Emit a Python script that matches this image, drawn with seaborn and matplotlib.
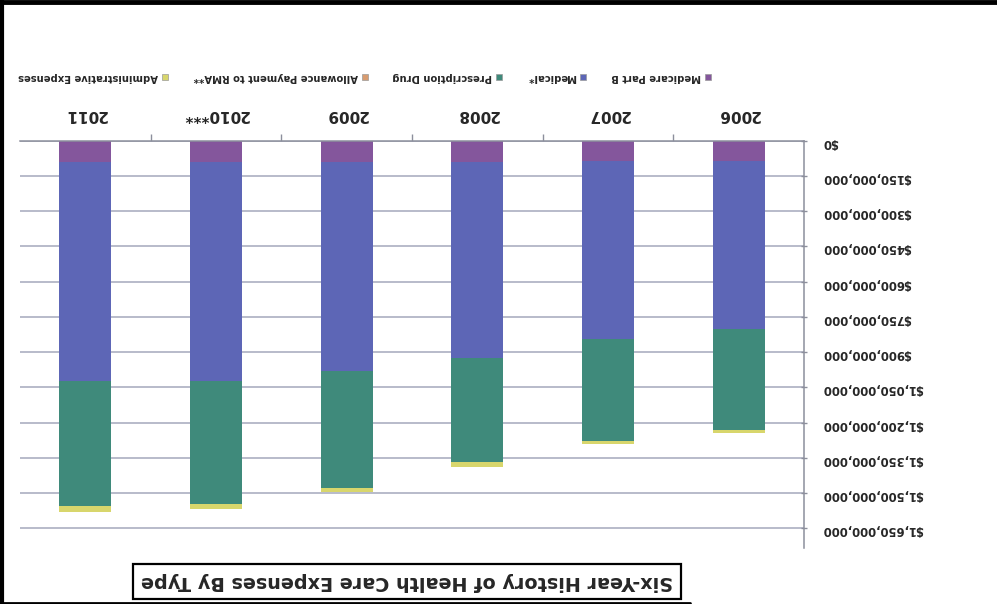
import numpy as np
import pandas as pd
import matplotlib
matplotlib.use("Agg")
import matplotlib.pyplot as plt
import seaborn as sns
from matplotlib.patches import Rectangle
from matplotlib.lines import Line2D

# Annual expenses by type, in millions of dollars
years = ["2006", "2007", "2008", "2009", "2010***", "2011"]
medicare_part_b = [86, 88, 90, 91, 92, 93]
medical = [718, 758, 837, 890, 931, 930]
prescription_drug = [428, 433, 442, 496, 524, 532]
allowance_rma = [0, 0, 0, 0, 0, 0]
administrative = [11, 14, 19, 20, 22, 25]

series_names = ["Medicare Part B", "Medical*", "Prescription Drug",
                "Allowance Payment to RMA**", "Administrative Expenses"]
series_colors = ["#84569c", "#5d66b6", "#3f8a7b", "#d89c70", "#d8d66c"]

tick_values = [0, 150, 300, 450, 600, 750, 900, 1050, 1200, 1350, 1500, 1650]
tick_labels = ["$0", "$150,000,000", "$300,000,000", "$450,000,000",
               "$600,000,000", "$750,000,000", "$900,000,000", "$1,050,000,000",
               "$1,200,000,000", "$1,350,000,000", "$1,500,000,000", "$1,650,000,000"]
title = "Six-Year History of Health Care Expenses By Type"

sns.set_style("white")
plt.rcParams["font.family"] = ["DejaVu Sans"]

W, H = 997, 604
fig = plt.figure(figsize=(W / 100, H / 100), dpi=100)
fig.patch.set_facecolor("white")


def fx(px):
    return px / W


def fy(py):
    return 1 - py / H


ax = fig.add_axes([fx(20), fy(548), fx(804) - fx(20), fy(140.5) - fy(548)])

series = [medicare_part_b, medical, prescription_drug, allowance_rma, administrative]
df = pd.DataFrame({"year": years})
running = np.zeros(len(years))
for i, vals in enumerate(series):
    running = running + np.array(vals, dtype=float) * 1e6
    df[f"cum{i}"] = running

# stacked bars drawn as overlapping cumulative totals, largest first
for i in reversed(range(len(series))):
    sns.barplot(data=df, x="year", y=f"cum{i}", order=years, color=series_colors[i],
                saturation=1, width=0.4, errorbar=None, linewidth=0,
                edgecolor="none", ax=ax)

ax.set_xlabel("")
ax.set_ylabel("")
ax.set_xlim(5.5, -0.5)
ax.set_ylim(1734e6, 0)

# value axis on the right, category axis along the top
for side in ["left", "bottom"]:
    ax.spines[side].set_visible(False)
for side in ["right", "top"]:
    ax.spines[side].set_visible(True)
    ax.spines[side].set_color("#8c8f9c")
    ax.spines[side].set_linewidth(1.1)

ax.yaxis.tick_right()
ax.set_yticks([v * 1e6 for v in tick_values])
ax.set_yticklabels(tick_labels, rotation=180, fontsize=8.4, fontweight="bold")
ax.tick_params(axis="y", direction="inout", length=4, width=1, color="#8c8f9c",
               pad=11.0)

ax.xaxis.tick_top()
ax.set_xticks(range(len(years)))
ax.set_xticklabels(years, rotation=180, fontsize=11, fontweight="bold")
ax.set_xticks(np.arange(0.5, len(years) - 1, 1.0), minor=True)
ax.tick_params(axis="x", which="major", length=0, pad=13)
ax.tick_params(axis="x", which="minor", direction="out", length=5, width=1,
               color="#8c8f9c")

ax.yaxis.grid(True, color="#a4a8bc", linewidth=1.1)
ax.xaxis.grid(False)
ax.set_axisbelow(True)

# legend row, reading right to left
fig.canvas.draw()
renderer = fig.canvas.get_renderer()
x_cursor = 711
y_leg = 77
msize = 6
for name, color in zip(series_names, series_colors):
    fig.add_artist(Rectangle((fx(x_cursor - msize), fy(y_leg + msize / 2)),
                             fx(msize), fy(0) - fy(msize), transform=fig.transFigure,
                             facecolor=color, edgecolor="#9a9a9a", linewidth=0.5))
    t = fig.text(fx(x_cursor - msize - 4), fy(y_leg), name, rotation=180,
                 ha="right", va="center", fontsize=7.2, fontweight="bold")
    w = t.get_window_extent(renderer).width
    x_cursor = x_cursor - msize - 4 - w - 25

fig.text(fx(407), fy(581.5), title, rotation=180, ha="center", va="center",
         fontsize=13.8, fontweight="bold",
         bbox=dict(boxstyle="square,pad=0.4", facecolor="white",
                   edgecolor="black", linewidth=1.6))

# page frame edges
fig.add_artist(Line2D([0, 1], [fy(2), fy(2)], color="black", linewidth=3.5,
                      transform=fig.transFigure))
fig.add_artist(Line2D([fx(1.5), fx(1.5)], [0, 1], color="black", linewidth=3,
                      transform=fig.transFigure))
fig.add_artist(Line2D([0, fx(690)], [fy(602.5), fy(602.5)], color="black",
                      linewidth=2, transform=fig.transFigure))

fig.savefig("out.png", dpi=100, facecolor="white")
